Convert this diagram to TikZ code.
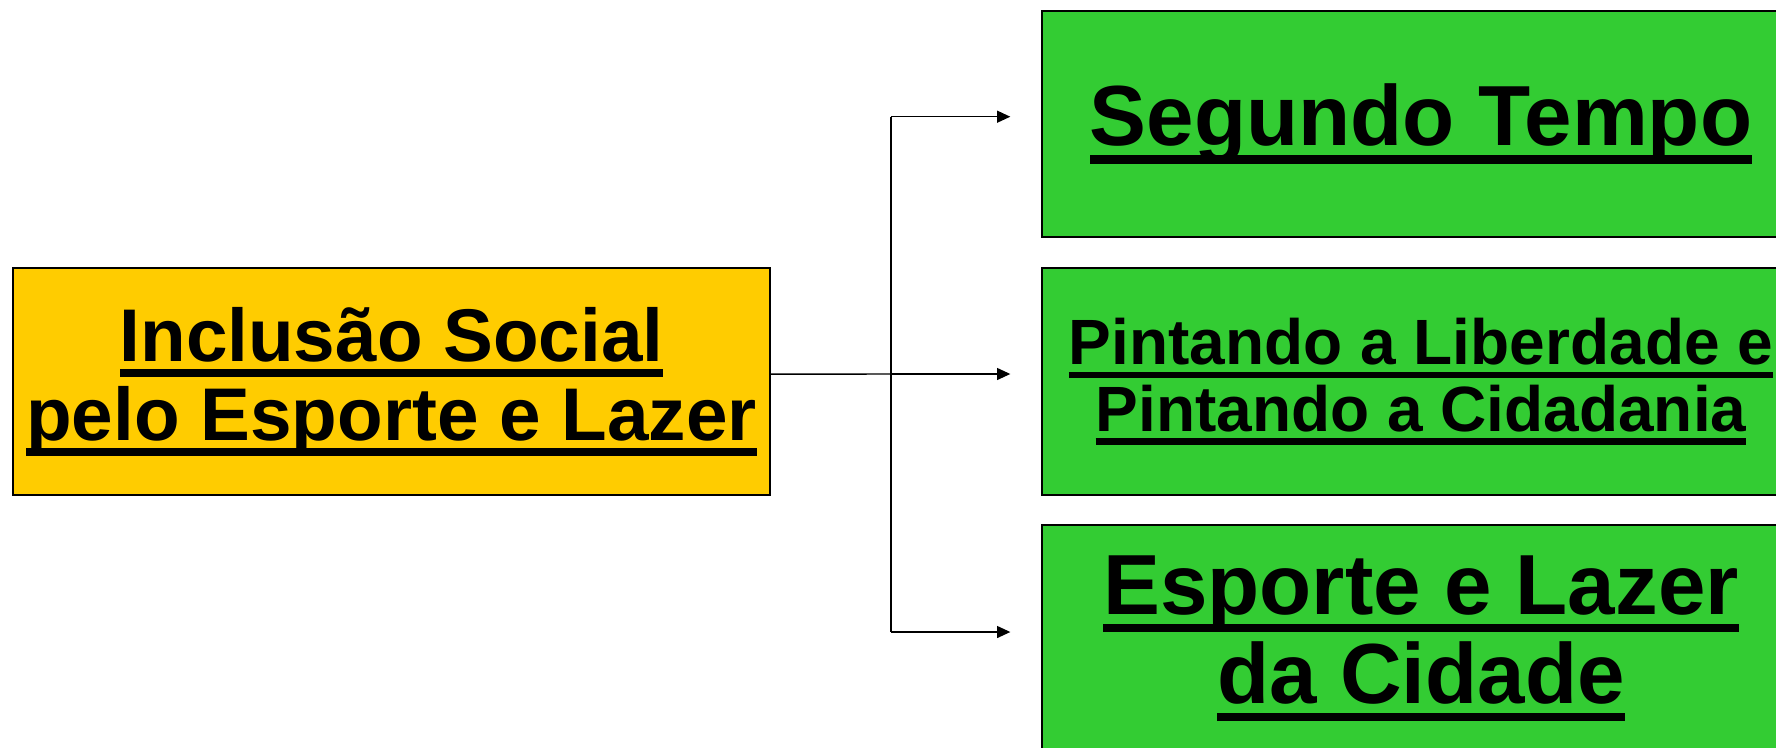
\documentclass[tikz,border=0pt]{standalone}
\usepackage{fontspec}
\setmainfont{Liberation Sans}
\usetikzlibrary{arrows.meta}
\definecolor{boxyellow}{RGB}{255,204,0}
\definecolor{boxgreen}{RGB}{51,204,51}
\newcommand{\ulbar}[1]{\setbox0=\hbox{#1}\rlap{\rule[-0.21em]{\wd0}{0.1em}}\box0}
\tikzset{prog/.style={shape=rectangle, draw=black, line width=1.5pt, minimum width=568pt, minimum height=170pt, inner sep=2pt, align=center},
  link/.style={line width=1.1pt, draw=black}}
\begin{document}
\begin{tikzpicture}[x=0.75pt, y=-0.75pt]
\useasboundingbox (0,0) rectangle (1776,747);
\clip (0,0) rectangle (1776,747);
\node[prog, fill=boxyellow, font=\bfseries\fontsize{56}{59.25}\selectfont] (incl) at (391.5,381.5) {\ulbar{Inclusão Social}\\\ulbar{pelo Esporte e Lazer}};
\node[prog, fill=boxgreen, font=\bfseries\fontsize{64}{67}\selectfont] (seg) at (1421,124) {\ulbar{Segundo Tempo}};
\node[prog, fill=boxgreen, font=\bfseries\fontsize{48}{50}\selectfont] (pint) at (1421,381.5) {\ulbar{Pintando a Liberdade e}\\\ulbar{Pintando a Cidadania}};
\node[prog, fill=boxgreen, font=\bfseries\fontsize{64}{67}\selectfont] (cid) at (1421,638.5) {\ulbar{Esporte e Lazer}\\\ulbar{da Cidade}};
\coordinate (top) at (891,116.7);
\coordinate (mid) at (891,374);
\coordinate (bot) at (891,632);
\draw [link] (top) -- (bot);
\draw [link] ([yshift=5.6pt]incl.east) -- (mid);
\draw [link, -{Triangle[length=10pt,width=9pt]}] (top) -- ([xshift=-23.25pt]top -| seg.west);
\draw [link, -{Triangle[length=10pt,width=9pt]}] (mid) -- ([xshift=-23.25pt]mid -| pint.west);
\draw [link, -{Triangle[length=10pt,width=9pt]}] (bot) -- ([xshift=-23.25pt]bot -| cid.west);
\end{tikzpicture}
\end{document}
